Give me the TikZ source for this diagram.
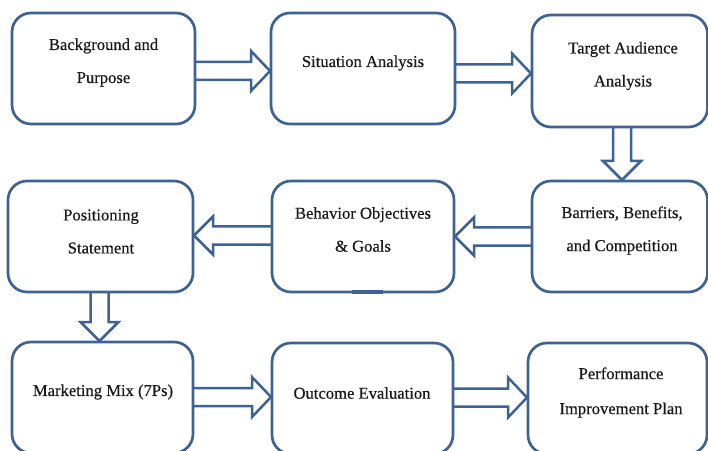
\documentclass[tikz,border=0pt]{standalone}
\usepackage{fontspec}
\setmainfont{Liberation Serif}
\newfontfamily\lblfont{Liberation Serif}[FakeBold=0.5]
\usetikzlibrary{calc}
\definecolor{bord}{RGB}{62,98,146}
\tikzset{
  box/.style={draw=bord,line width=2.7pt,rounded corners=19pt,inner sep=0pt,outer sep=0pt,fill=white},
  lbl/.style={font=\lblfont\fontsize{16.6}{33}\selectfont,align=center,text=black!90,inner sep=0pt},
  blk/.style={draw=bord,line width=2.5pt,line join=miter}
}
\newcommand\arrR[3]{%
  \draw[blk] let \p1=(#1.east),\p2=(#2.west) in
  (\x1,{#3+9}) -- ({\x2-20},{#3+9}) -- ({\x2-20},{#3+20}) -- ({\x2-1},#3)
  -- ({\x2-20},{#3-20}) -- ({\x2-20},{#3-9}) -- (\x1,{#3-9});}
\newcommand\arrL[3]{%
  \draw[blk] let \p1=(#1.west),\p2=(#2.east) in
  (\x1,{#3+9}) -- ({\x2+20},{#3+9}) -- ({\x2+20},{#3+19}) -- ({\x2+1},#3)
  -- ({\x2+20},{#3-19}) -- ({\x2+20},{#3-9}) -- (\x1,{#3-9});}
\newcommand\arrD[3]{%
  \draw[blk] let \p1=(#1.south),\p2=(#2.north) in
  ({#3-9},\y1) -- ({#3-9},{\y2+20}) -- ({#3-19},{\y2+20}) -- (#3,{\y2+1})
  -- ({#3+19},{\y2+20}) -- ({#3+9},{\y2+20}) -- ({#3+9},\y1);}
\begin{document}
\begin{tikzpicture}[x=1pt,y=1pt]
\useasboundingbox (0,0) rectangle (708,450);
\fill[white] (0,0) rectangle (708,450);
\clip (0,0) rectangle (708,450);
% boxes
\node[box,minimum width=183pt,minimum height=111pt] (b1) at (103.5,381.5) {};
\node[box,minimum width=184pt,minimum height=111pt] (b2) at (363,381.5) {};
\node[box,minimum width=175.5pt,minimum height=112pt] (b3) at (619.75,379) {};
\node[box,minimum width=185pt,minimum height=111pt] (b4) at (100.5,213.5) {};
\node[box,minimum width=182pt,minimum height=111pt] (b5) at (363,213.5) {};
\node[box,minimum width=175.5pt,minimum height=111pt] (b6) at (619.75,213.5) {};
\node[box,minimum width=181pt,minimum height=111pt] (b7) at (102.5,52.5) {};
\node[box,minimum width=181pt,minimum height=111pt] (b8) at (362.5,51.5) {};
\node[box,minimum width=179pt,minimum height=111pt] (b9) at (617.5,51.5) {};
% small thick mark on bottom of b5
\coordinate (m1) at (352,158);
\coordinate (m2) at (383,158);
\draw[bord,line width=4pt] (m1) -- (m2);
% labels
\node[lbl] (t1) at (103.5,387.5) {Background and\\Purpose};
\node[lbl] (t2) at (363,387) {Situation Analysis};
\node[lbl] (t3) at (623,384) {Target Audience\\Analysis};
\node[lbl] (t4) at (101,218.5) {Positioning\\Statement};
\node[lbl] (t5) at (363,220.5) {Behavior Objectives\\\& Goals};
\node[lbl] (t6) at (622,219.5) {Barriers, Benefits,\\and Competition};
\node[lbl] (t7) at (103,58) {Marketing Mix (7Ps)};
\node[lbl] (t8) at (362,57) {Outcome Evaluation};
\node[lbl,font=\lblfont\fontsize{16.6}{35}\selectfont] (t9) at (621,57.5) {Performance\\Improvement Plan};
% arrows
\arrR{b1}{b2}{379}
\arrR{b2}{b3}{376.5}
\arrD{b3}{b6}{622}
\arrL{b6}{b5}{213.5}
\arrL{b5}{b4}{214.5}
\arrD{b4}{b7}{99.5}
\arrR{b7}{b8}{53}
\arrR{b8}{b9}{52.5}
\end{tikzpicture}
\end{document}
